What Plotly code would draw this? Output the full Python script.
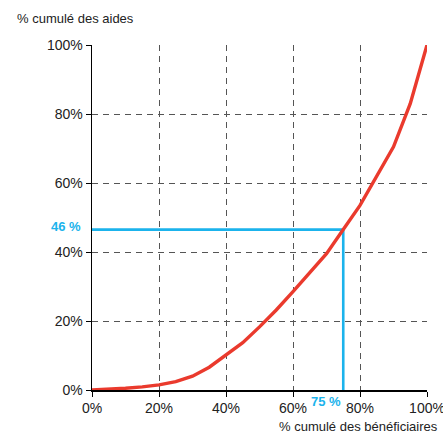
import plotly.graph_objects as go

# Data
benef_pct = [0, 5, 10, 15, 20, 25, 30, 35, 40, 45, 50, 55, 60, 65, 70, 75, 80, 90, 95, 100]
aides_pct = [0, 0.2, 0.5, 0.9, 1.5, 2.4, 4.0, 6.6, 10.1, 13.7, 18.3, 23.2, 28.5, 33.9, 39.5,
             46.5, 53.5, 70.5, 83.0, 100]
marker_x = 75
marker_y = 46.5
tick_vals = [0, 20, 40, 60, 80, 100]
tick_text = ["0%", "20%", "40%", "60%", "80%", "100%"]
x_label = "% cumulé des bénéficiaires"
y_label = "% cumulé des aides"

RED = "#EA3A2D"
BLUE = "#1BB3EC"
FONT = "Liberation Sans, Arial, sans-serif"

fig = go.Figure()

fig.add_trace(go.Scatter(
    x=[0, marker_x, marker_x], y=[marker_y, marker_y, 0],
    mode="lines", line=dict(color=BLUE, width=2.6),
    hoverinfo="skip", showlegend=False, cliponaxis=False))

fig.add_trace(go.Scatter(
    x=benef_pct, y=aides_pct, mode="lines",
    line=dict(color=RED, width=3.4),
    showlegend=False, cliponaxis=False))

axis_common = dict(
    range=[0, 100], tickmode="array", tickvals=tick_vals, ticktext=tick_text,
    showgrid=True, gridcolor="#555555", gridwidth=1, griddash="6px,5px",
    showline=True, linecolor="#000000", linewidth=1.5,
    ticks="outside", ticklen=5, tickcolor="#000000", tickwidth=1,
    tickfont=dict(family=FONT, size=14, color="#222222"),
    zeroline=False, layer="below traces", fixedrange=True, automargin=False,
    ticklabeloverflow="allow",
)

W, H = 443, 433
fig.update_layout(
    template="none",
    width=W, height=H,
    margin=dict(l=92, r=W - 427, t=45, b=H - 390),
    paper_bgcolor="white", plot_bgcolor="white",
    hovermode=False,
    xaxis=dict(**axis_common),
    yaxis=dict(**axis_common),
    annotations=[
        dict(text=y_label, xref="paper", yref="paper",
             x=-0.23, y=1.078, xanchor="left", yanchor="middle",
             showarrow=False, font=dict(family=FONT, size=13, color="#222222")),
        dict(text=x_label, xref="paper", yref="paper",
             x=1.04, y=-0.105, xanchor="right", yanchor="middle",
             showarrow=False, font=dict(family=FONT, size=13, color="#222222")),
        dict(text="<b>46 %</b>", xref="paper", yref="y",
             x=-0.028, y=marker_y + 0.8, xanchor="right", yanchor="middle",
             showarrow=False, font=dict(family=FONT, size=13, color=BLUE)),
        dict(text="<b>75 %</b>", xref="x", yref="paper",
             x=marker_x, y=-0.032, xanchor="right", yanchor="middle",
             showarrow=False, font=dict(family=FONT, size=13, color=BLUE)),
    ],
)

fig.write_html(
    "out.html",
    config={"displayModeBar": False, "staticPlot": True},
    post_script="document.body.style.margin='0';document.body.style.overflow='hidden';",
)
